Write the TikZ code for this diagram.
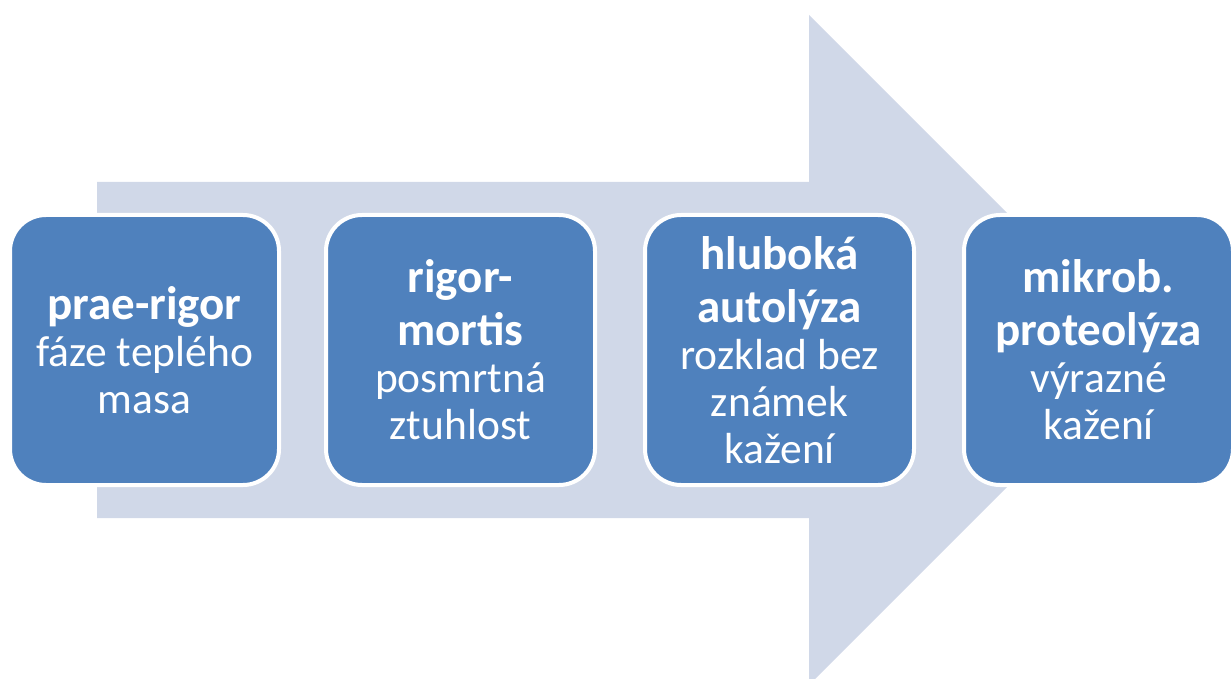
\documentclass[tikz,border=0pt]{standalone}
\usepackage{fontspec}
\setmainfont{Carlito}
\definecolor{arrowfill}{HTML}{D0D8E8}
\definecolor{boxfill}{HTML}{4F81BD}
\tikzset{
  stage/.style={draw=white, line width=4pt, fill=boxfill, rounded corners=36pt,
    minimum width=269pt, minimum height=270pt, text width=262pt, align=center,
    text=white, inner sep=0pt, font=\fontsize{43.5}{47}\selectfont,
    execute at begin node={\spaceskip=9.8pt\relax}},
}
\newcommand{\headtxt}[1]{{\fontsize{47}{53}\selectfont\bfseries #1}}
\begin{document}
\begin{tikzpicture}[x=1pt,y=-1pt]
  \useasboundingbox (0,0) rectangle (1232,679);
  \clip (0,0) rectangle (1232,679);
  % broad background arrow
  \fill[arrowfill] (97,182) -- (809,182) -- (809,15) -- (1144,350)
    -- (809,685) -- (809,518) -- (97,518) -- cycle;
  % stage boxes
  \node[stage] (s1) at (144.5,350) {\headtxt{prae-rigor}\\ fáze teplého\\ masa};
  \node[stage] (s2) at (460.5,350) {\headtxt{rigor-}\\[6pt] \headtxt{mortis}\\ posmrtná\\ ztuhlost};
  \node[stage] (s3) at (779.5,350) {\headtxt{hluboká}\\[6pt] \headtxt{autolýza}\\ rozklad bez\\ známek\\ kažení};
  \node[stage] (s4) at (1098.5,350) {\headtxt{mikrob.}\\[6pt] \headtxt{proteolýza}\\ výrazné\\ kažení};
\end{tikzpicture}
\end{document}
